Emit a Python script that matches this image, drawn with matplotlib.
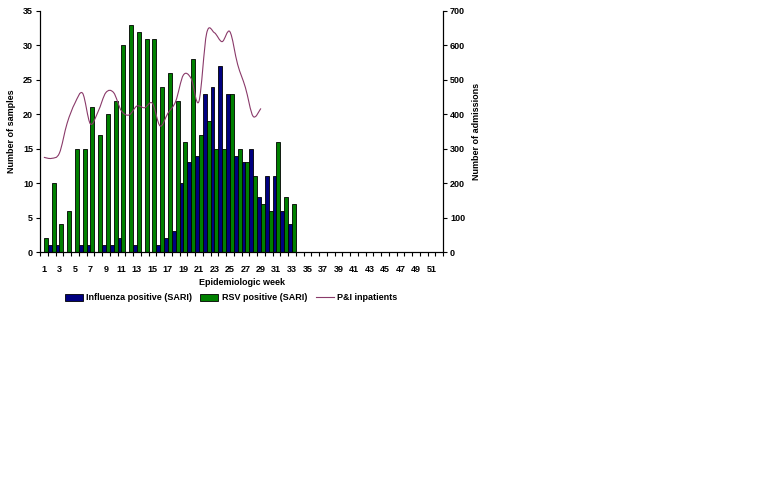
import matplotlib
matplotlib.use('Agg')
import matplotlib.pyplot as plt
import numpy as np
from matplotlib.path import Path
from matplotlib.patches import PathPatch, Patch
from matplotlib.lines import Line2D

plt.rcParams['font.family'] = ['Liberation Sans', 'DejaVu Sans']
plt.rcParams['font.weight'] = 'bold'

weeks = np.arange(1, 53)

# samples per epidemiologic week (weeks 34-52 empty)
flu_pos = [0, 1, 1, 0, 0, 1, 1, 0, 1, 1, 2, 0, 1, 0, 0, 1, 2, 3, 10, 13,
           14, 23, 24, 27, 23, 14, 13, 15, 8, 11, 11, 6, 4] + [0] * 19
rsv_pos = [2, 10, 4, 6, 15, 15, 21, 17, 20, 22, 30, 33, 32, 31, 31, 24, 26, 22, 16, 28,
           17, 19, 15, 15, 23, 15, 13, 11, 7, 6, 16, 8, 7] + [0] * 19

# P&I inpatients, weeks 1-29
pi_weeks = np.arange(1, 30)
pi_inpatients = [275, 272, 287, 374, 432, 461, 372, 408, 463, 463, 410, 398, 424, 419, 432,
                 366, 403, 437, 514, 504, 437, 635, 637, 611, 640, 545, 478, 394, 417]

navy = '#000080'
green = '#008000'
plum = '#8a3a6a'

fig = plt.figure(figsize=(7.68, 4.8), dpi=100)
ax = fig.add_axes([40 / 768, 1 - 252 / 480, 403 / 768, 241 / 480])

w = 0.5
ax.bar(weeks - w / 2, flu_pos, width=w, color=navy, edgecolor='black', linewidth=0.6)
ax.bar(weeks + w / 2, rsv_pos, width=w, color=green, edgecolor='black', linewidth=0.6)

ax.set_xlim(0.5, 52.5)
ax.set_ylim(0, 35)
ax.set_yticks(np.arange(0, 36, 5))
ax.set_xticks(weeks[::2])
ax.set_xticklabels([str(v) for v in weeks[::2]])
ax.set_xticks(np.arange(0.5, 53, 1), minor=True)
ax.tick_params(axis='x', which='major', length=0, labelsize=6.5, pad=9)
ax.tick_params(axis='x', which='minor', length=3, width=0.8, direction='out')
ax.tick_params(axis='y', length=3, width=0.8, direction='out', labelsize=6.5, pad=2)
ax.spines['top'].set_visible(False)
for s in ['left', 'right', 'bottom']:
    ax.spines[s].set_linewidth(0.8)
ax.set_ylabel('Number of samples', fontsize=6.5, fontweight='bold', labelpad=5)
ax.set_xlabel('Epidemiologic week', fontsize=6.5, fontweight='bold', labelpad=3)

ax2 = ax.twinx()
ax2.set_ylim(0, 700)
ax2.set_yticks(np.arange(0, 701, 100))
ax2.tick_params(axis='y', length=3, width=0.8, direction='out', labelsize=6.5, pad=2)
ax2.spines['top'].set_visible(False)
ax2.spines['right'].set_linewidth(0.8)
ax2.set_ylabel('Number of admissions', fontsize=6.5, fontweight='bold', labelpad=5)

# smoothed line (Bezier through the weekly points, like the spreadsheet's smoothing)
x = pi_weeks.astype(float)
y = np.array(pi_inpatients, dtype=float)
verts = [(x[0], y[0])]
codes = [Path.MOVETO]
for i in range(len(x) - 1):
    x0, y0 = (x[i - 1], y[i - 1]) if i > 0 else (x[i], y[i])
    x3, y3 = (x[i + 2], y[i + 2]) if i + 2 < len(x) else (x[i + 1], y[i + 1])
    c1 = (x[i] + (x[i + 1] - x0) / 6, y[i] + (y[i + 1] - y0) / 6)
    c2 = (x[i + 1] - (x3 - x[i]) / 6, y[i + 1] - (y3 - y[i]) / 6)
    verts += [c1, c2, (x[i + 1], y[i + 1])]
    codes += [Path.CURVE4] * 3
ax2.add_patch(PathPatch(Path(verts, codes), facecolor='none', edgecolor=plum, linewidth=0.8))

handles = [Patch(facecolor=navy, edgecolor='black', linewidth=0.6),
           Patch(facecolor=green, edgecolor='black', linewidth=0.6),
           Line2D([0], [0], color=plum, linewidth=0.8)]
labels = ['Influenza positive (SARI)', 'RSV positive (SARI)', 'P&I inpatients']
fig.legend(handles, labels, loc='center', bbox_to_anchor=(231 / 768, 1 - 298 / 480),
           ncol=3, frameon=False, handlelength=2.0, handleheight=0.8,
           handletextpad=0.4, columnspacing=0.9, prop={'weight': 'bold', 'size': 6.5})

fig.savefig('out.png', dpi=100)
